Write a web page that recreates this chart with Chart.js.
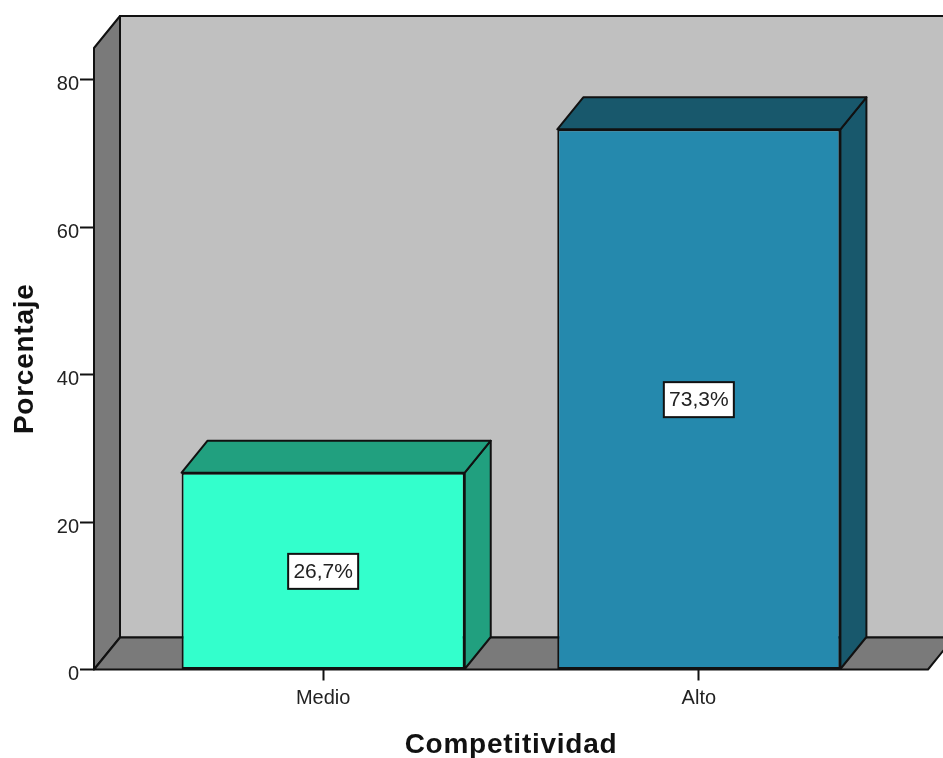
<!DOCTYPE html>
<html>
<head>
<meta charset="utf-8">
<title>Competitividad</title>
<script src="https://cdn.jsdelivr.net/npm/chart.js@4/dist/chart.umd.js"></script>
<style>
  html, body { margin: 0; padding: 0; background: #fff; }
  canvas { display: block; }
</style>
</head>
<body>
<canvas id="barChart" width="943" height="758"></canvas>
<script>
var categories = ['Medio', 'Alto'];
var percentages = [26.7, 73.3];
var frontColors = ['#33FFCC', '#2589AD'];
var shadeColors = ['#21A07F', '#18586C'];
var yTickValues = [0, 20, 40, 60, 80];

var DEPTH_X = 26, DEPTH_Y = 32;
var LINE = '#111';

function poly(ctx, pts, fill) {
  ctx.beginPath();
  ctx.moveTo(pts[0][0], pts[0][1]);
  for (var i = 1; i < pts.length; i++) ctx.lineTo(pts[i][0], pts[i][1]);
  ctx.closePath();
  ctx.fillStyle = fill;
  ctx.fill();
  ctx.lineWidth = 2;
  ctx.lineJoin = 'round';
  ctx.strokeStyle = LINE;
  ctx.stroke();
}

// axis titles are a bit wider than the plain font, so space the letters out
function spaceTitle(scale) {
  if (scale.drawTitle.spaced) return;
  var drawTitle = scale.drawTitle;
  scale.drawTitle = function () {
    scale.ctx.save();
    scale.ctx.letterSpacing = '0.75px';
    drawTitle.call(scale);
    scale.ctx.restore();
  };
  scale.drawTitle.spaced = true;
}

// back wall, left wall and floor of the box
var boxPlugin = {
  id: 'box',
  beforeDraw: function (chart) {
    var a = chart.chartArea, ctx = chart.ctx;
    var dx = DEPTH_X, dy = DEPTH_Y;
    ctx.save();
    poly(ctx, [[a.left + dx, a.top - dy], [a.right + dx + 10, a.top - dy], [a.right + dx + 10, a.bottom - dy], [a.left + dx, a.bottom - dy]], '#C0C0C0');
    poly(ctx, [[a.left, a.top], [a.left + dx, a.top - dy], [a.left + dx, a.bottom - dy], [a.left, a.bottom]], '#7A7A7A');
    poly(ctx, [[a.left, a.bottom], [a.left + dx, a.bottom - dy], [a.right + dx, a.bottom - dy], [a.right, a.bottom]], '#7A7A7A');
    ctx.restore();
  }
};

// top and side faces of each bar, sits behind the front face
var barDepthPlugin = {
  id: 'barDepth',
  beforeDatasetsDraw: function (chart) {
    var ctx = chart.ctx, dx = DEPTH_X, dy = DEPTH_Y;
    ctx.save();
    chart.getDatasetMeta(0).data.forEach(function (bar, i) {
      var l = bar.x - bar.width / 2, r = bar.x + bar.width / 2;
      poly(ctx, [[r, bar.y], [r + dx, bar.y - dy], [r + dx, bar.base - dy], [r, bar.base]], shadeColors[i]);
      poly(ctx, [[l, bar.y], [l + dx, bar.y - dy], [r + dx, bar.y - dy], [r, bar.y]], shadeColors[i]);
    });
    ctx.restore();
  }
};

// white value boxes in the middle of the bars
var valueBoxPlugin = {
  id: 'valueBox',
  afterDatasetsDraw: function (chart) {
    var ctx = chart.ctx;
    ctx.save();
    ctx.font = '21px "Liberation Sans"';
    ctx.textAlign = 'center';
    ctx.textBaseline = 'middle';
    chart.getDatasetMeta(0).data.forEach(function (bar, i) {
      var label = percentages[i].toFixed(1).replace('.', ',') + '%';
      var cy = (bar.y + bar.base) / 2;
      ctx.fillStyle = '#fff';
      ctx.strokeStyle = LINE;
      ctx.lineWidth = 2;
      ctx.fillRect(bar.x - 35, cy - 17, 70, 35);
      ctx.strokeRect(bar.x - 35, cy - 17, 70, 35);
      ctx.fillStyle = '#222';
      ctx.fillText(label, bar.x, cy + 1);
    });
    ctx.restore();
  }
};

var ctx = document.getElementById('barChart').getContext('2d');
var barChart = new Chart(ctx, {
  type: 'bar',
  data: {
    datasets: [{
      data: categories.map(function (c, i) { return { x: i, y: percentages[i] }; }),
      backgroundColor: frontColors,
      borderColor: LINE,
      borderWidth: 2,
      borderSkipped: false,
      categoryPercentage: 1,
      barPercentage: 0.7537
    }]
  },
  plugins: [boxPlugin, barDepthPlugin, valueBoxPlugin],
  options: {
    responsive: false,
    animation: false,
    layout: { padding: { top: 48, right: 15, left: 0, bottom: 0 } },
    plugins: { legend: { display: false }, tooltip: { enabled: false } },
    scales: {
      x: {
        type: 'linear',
        offset: false,
        min: -0.61,
        max: 1.61,
        afterBuildTicks: function (scale) {
          scale.ticks = categories.map(function (c, i) { return { value: i }; });
        },
        afterFit: function (scale) { scale.height = 88.5; },
        afterUpdate: spaceTitle,
        border: { display: false },
        grid: { offset: false, drawOnChartArea: false, tickLength: 11, tickColor: LINE, tickWidth: 2 },
        ticks: {
          autoSkip: false,
          maxRotation: 0,
          padding: 6,
          color: '#222',
          font: { family: '"Liberation Sans"', size: 20 },
          callback: function (v) { return categories[v]; }
        },
        title: {
          display: true,
          text: 'Competitividad',
          color: '#111',
          font: { family: '"Liberation Sans"', size: 28, weight: 'bold' },
          padding: { top: 0, bottom: -4 }
        }
      },
      y: {
        min: 0,
        max: 84.33,
        afterBuildTicks: function (scale) {
          scale.ticks = yTickValues.map(function (v) { return { value: v }; });
        },
        afterFit: function (scale) { scale.width = 94; },
        afterUpdate: spaceTitle,
        border: { display: false },
        grid: { drawOnChartArea: false, tickLength: 14, tickColor: LINE, tickWidth: 2 },
        ticks: {
          padding: 1,
          labelOffset: 5,
          color: '#222',
          font: { family: '"Liberation Sans"', size: 20 }
        },
        title: {
          display: true,
          text: 'Porcentaje',
          color: '#111',
          font: { family: '"Liberation Sans"', size: 28, weight: 'bold' },
          padding: { top: 8, bottom: 0 }
        }
      }
    }
  }
});
</script>
</body>
</html>
